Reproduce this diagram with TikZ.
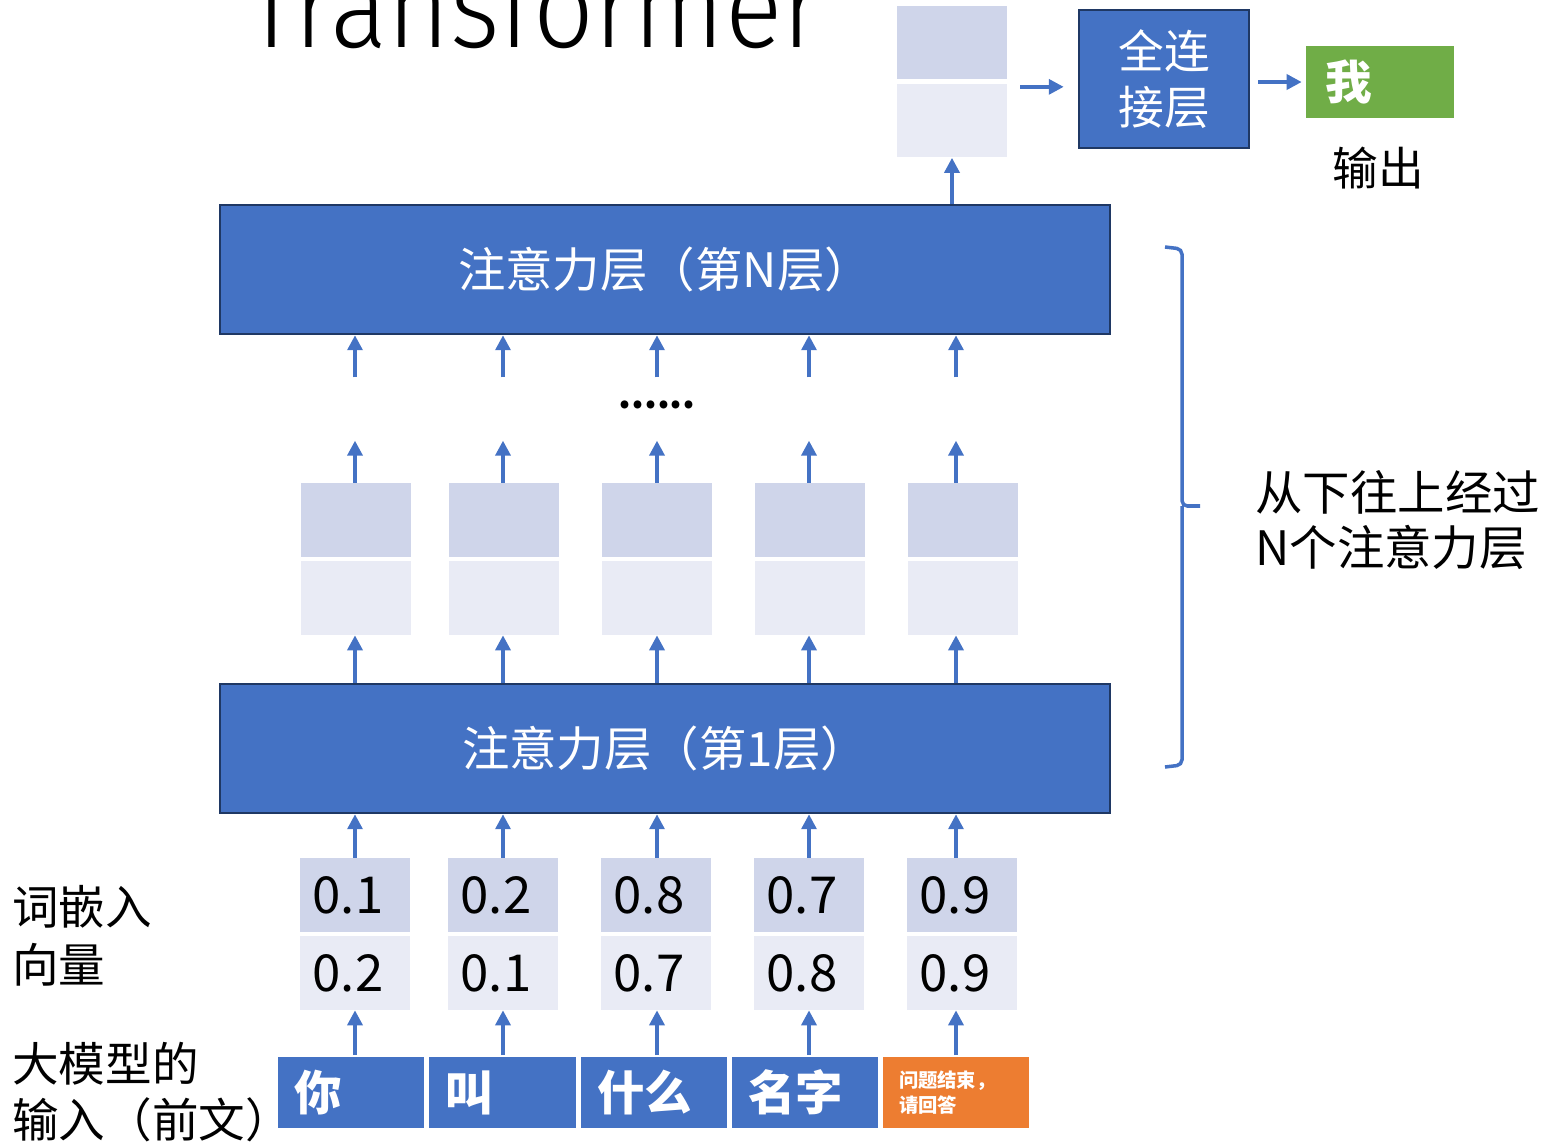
\documentclass[tikz,border=0pt]{standalone}
\usepackage{fontspec}
\usepackage{graphicx}
\setmainfont{Noto Sans CJK SC}
\newfontfamily\titlefont{Fira Sans Light}
\usetikzlibrary{arrows.meta}

\definecolor{accblue}{HTML}{4472C4}
\definecolor{edgeblue}{HTML}{1F3864}
\definecolor{vecdark}{HTML}{CFD5EA}
\definecolor{veclight}{HTML}{E9EBF5}
\definecolor{accgreen}{HTML}{70AD47}
\definecolor{accorange}{HTML}{ED7D31}

\tikzset{
  x=0.02cm, y=-0.02cm,
  plain/.style={inner sep=0pt},
  layerbox/.style={draw=edgeblue, line width=1.5pt, fill=accblue,
    minimum width=17.8cm, minimum height=2.58cm, text=white,
    font=\fontsize{27}{32}\selectfont},
  cellup/.style={fill=vecdark, minimum width=2.2cm, minimum height=1.48cm, inner sep=0pt},
  celllow/.style={fill=veclight, minimum width=2.2cm, minimum height=1.48cm, inner sep=0pt},
  numtext/.style={font=\fontsize{29}{29}\selectfont},
  tokbox/.style={fill=accblue, draw=white, line width=1pt, minimum height=1.46cm,
    text width=2.28cm, inner xsep=0.34cm, inner ysep=0pt, align=left, text=white,
    font=\fontsize{27}{32}\selectfont\bfseries},
  arr/.style={draw=accblue, line width=2pt, -{Triangle[width=8.5pt,length=8.5pt]}},
}

\begin{document}
\begin{tikzpicture}
\useasboundingbox (0,0) rectangle (1546,1143);

% title, cut off at the top edge
\node[plain, anchor=base] (title) at (533.5,47)
  {\resizebox{11.54cm}{\height}{\titlefont\fontsize{67}{67}\selectfont Transformer}};

% attention layers
\node[layerbox] (attN) at (665,269.5) {注意力层（第N层）};
\node[layerbox] (att1) at (665,748.5) {注意力层（第1层）};

% hidden vectors between the layers
\foreach \x [count=\i] in {356,504,657,810,963} {
  \node[cellup]  (midU\i) at (\x,520) {};
  \node[celllow] (midL\i) at (\x,598) {};
}

% word embedding vectors
\foreach \x/\a/\b [count=\i] in {355/0.1/0.2, 503/0.2/0.1, 656/0.8/0.7, 809/0.7/0.8, 962/0.9/0.9} {
  \node[cellup, numtext]  (embU\i) at (\x,895) {\kern-0.28cm\a};
  \node[celllow, numtext] (embL\i) at (\x,973) {\kern-0.28cm\b};
}

% input tokens
\node[tokbox] (tok1) at (351,1092.5) {你};
\node[tokbox] (tok2) at (502.5,1092.5) {叫};
\node[tokbox] (tok3) at (654,1092.5) {什么};
\node[tokbox] (tok4) at (805,1092.5) {名字};
\node[tokbox, fill=accorange, font=\fontsize{11}{14.2}\selectfont\bfseries] (tok5) at (956,1092.5) {问题结束，\\请回答};

% vertical lines along which the arrows run
\foreach \x [count=\i] in {355,503,657,809,956}
  \coordinate (ax\i) at (\x,0);

% upward arrows through the stack
\foreach \i in {1,...,5} {
  \draw[arr] (tok\i.north -| ax\i) -- (embL\i.south -| ax\i);
  \draw[arr] (embU\i.north -| ax\i) -- (att1.south -| ax\i);
  \draw[arr] (att1.north -| ax\i) -- (midL\i.south -| ax\i);
  \coordinate (up\i) at ([yshift=0.84cm]midU\i.north -| ax\i);
  \draw[arr] (midU\i.north -| ax\i) -- (up\i);
  \coordinate (dn\i) at ([yshift=-0.84cm]attN.south -| ax\i);
  \draw[arr] (dn\i) -- (attN.south -| ax\i);
}

% elided layers
\node[plain, anchor=base, font=\fontsize{21}{21}\selectfont\bfseries] (dots) at (657,408) {......};

% output of the last layer
\node[cellup]  (topU) at (952,42.5) {};
\node[celllow] (topL) at (952,120.5) {};
\draw[arr] (attN.north -| topL) -- (topL.south);

% fully connected layer and prediction
\node[draw=edgeblue, line width=1.5pt, fill=accblue, minimum width=3.4cm, minimum height=2.76cm,
  align=center, text=white, font=\fontsize{26}{31.7}\selectfont] (fc) at (1164,79) {全连\\接层};
\node[fill=accgreen, minimum height=1.44cm, text width=2.2cm, inner xsep=0.38cm, inner ysep=0pt,
  align=left, text=white, font=\fontsize{26.5}{30}\selectfont\bfseries] (out) at (1380,82) {我};
\node[plain, font=\fontsize{26}{30}\selectfont] (outlbl) at (1378,168) {输出};

\coordinate (fcin) at ([yshift=-0.14cm]topU.south east);
\draw[arr, shorten <=0.26cm, shorten >=0.28cm] (fcin) -- (fcin -| fc.west);
\draw[arr, shorten <=0.16cm, shorten >=0.08cm] (fc.east |- out.west) -- (out.west);

% side labels
\node[plain, anchor=west, align=left, font=\fontsize{26.5}{32.9}\selectfont] (emblbl) at (12,936) {词嵌入\\向量};
\node[plain, anchor=west, align=left, font=\fontsize{26.5}{32.3}\selectfont] (inlbl) at (12,1092) {大模型的\\输入（前文）};

% bracket spanning the attention layers
\draw[accblue, line width=2pt, rounded corners=3pt]
  (1165,247) -- (1182,249) -- (1182,506) -- (1200,506);
\draw[accblue, line width=2pt, rounded corners=3pt]
  (1182,506) -- (1182,765) -- (1165,767);
\node[plain, anchor=west, align=left, font=\fontsize{27}{31.7}\selectfont] (note) at (1255,520) {从下往上经过\\N个注意力层};
\end{tikzpicture}
\end{document}
